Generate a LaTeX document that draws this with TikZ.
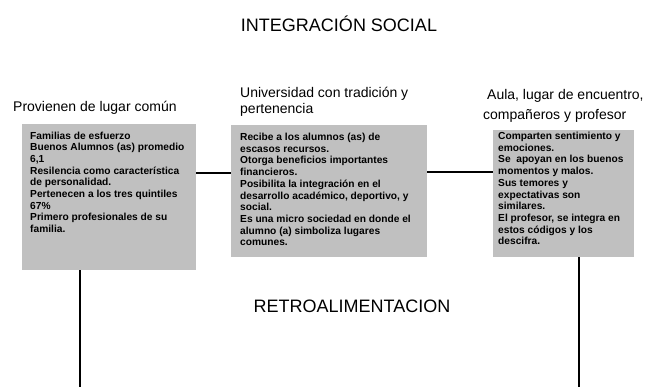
\documentclass[tikz,border=0pt]{standalone}
\usepackage{fontspec}
\setmainfont{Liberation Sans}
\begin{document}
\begin{tikzpicture}[x=1pt,y=-1pt,
  box/.style={fill=boxgray, draw=none, inner sep=0, anchor=north west},
  boxtext/.style={inner sep=0, anchor=north west, align=left, font=\fontsize{10.2}{11.7}\selectfont\bfseries, text=black},
  label/.style={inner sep=0, anchor=base west, font=\fontsize{14}{16}\selectfont},
  head/.style={inner sep=0, anchor=base, font=\fontsize{18}{20}\selectfont},
  conn/.style={line width=1.2pt, black}]
\definecolor{boxgray}{HTML}{C0C0C0}
\useasboundingbox (0,0) rectangle (647,387);
\fill[white] (0,0) rectangle (647,387);

\node[head] (title) at (339,32) {INTEGRACIÓN SOCIAL};
\node[head] (retro) at (352,312) {RETROALIMENTACION};

\node[label] (l1) at (13,112) {Provienen de lugar común};
\node[label] (l2a) at (240,98) {Universidad con tradición y};
\node[label] (l2b) at (240,114) {pertenencia};
\node[label] (l3a) at (487,100) {Aula, lugar de encuentro,};
\node[label] (l3b) at (483,120) {compañeros y profesor};

\node[box, minimum width=174, minimum height=146] (b1) at (22,124) {};
\node[box, minimum width=196, minimum height=132] (b2) at (231,125) {};
\node[box, minimum width=141, minimum height=127] (b3) at (493,130) {};

\node[boxtext] (t1) at (30,131.5) {Familias de esfuerzo\\Buenos Alumnos (as) promedio\\6,1\\Resilencia como característica\\de personalidad.\\Pertenecen a los tres quintiles\\67\%\\Primero profesionales de su\\familia.};
\node[boxtext] (t2) at (240,133) {Recibe a los alumnos (as) de\\escasos recursos.\\Otorga beneficios importantes\\financieros.\\Posibilita la integración en el\\desarrollo académico, deportivo, y\\social.\\Es una micro sociedad en donde el\\alumno (a) simboliza lugares\\comunes.};
\node[boxtext] (t3) at (498,132) {Comparten sentimiento y\\emociones.\\Se\ \ apoyan en los buenos\\momentos y malos.\\Sus temores y\\expectativas son\\similares.\\El profesor, se integra en\\estos códigos y los\\descifra.};

\coordinate (f1) at (80,387);
\coordinate (f3) at (579,387);

\draw[conn] (b1.east |- 0,173) -- (b2.west |- 0,173);
\draw[conn] (b2.east |- 0,172) -- (b3.west |- 0,172);
\draw[conn] (f1 |- b1.south) -- (f1);
\draw[conn] (f3 |- b3.south) -- (f3);
\end{tikzpicture}
\end{document}
